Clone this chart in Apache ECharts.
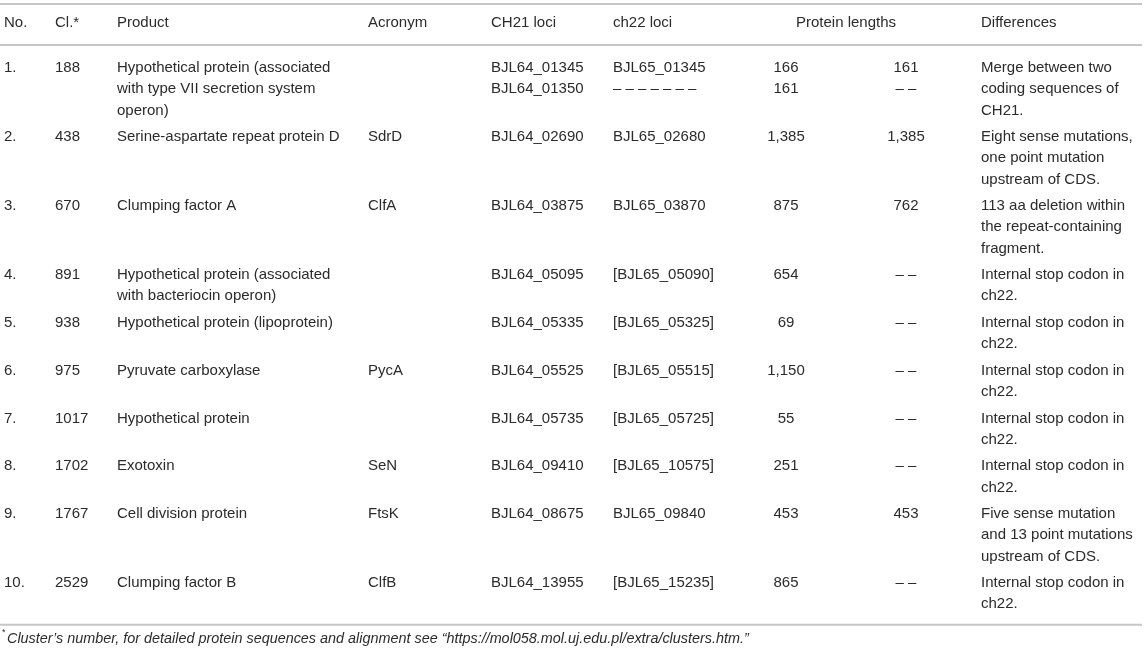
<!DOCTYPE html>
<html>
<head>
<meta charset="utf-8">
<title>Table</title>
<script src="https://cdn.jsdelivr.net/npm/echarts@6/dist/echarts.min.js"></script>
<style>
    html, body { margin: 0; padding: 0; background: #fff; }
    #container { width: 1145px; height: 656px; }
</style>
</head>
<body>
<div id="container"></div>
<script type="text/javascript">
    // table content
    var headers = ['No.', 'Cl.*', 'Product', 'Acronym', 'CH21 loci', 'ch22 loci', 'Protein lengths', 'Differences'];
    var rowNos = ['1.', '2.', '3.', '4.', '5.', '6.', '7.', '8.', '9.', '10.'];
    var clusters = ['188', '438', '670', '891', '938', '975', '1017', '1702', '1767', '2529'];
    var products = [
        'Hypothetical protein (associated\nwith type VII secretion system\noperon)',
        'Serine-aspartate repeat protein D',
        'Clumping factor A',
        'Hypothetical protein (associated\nwith bacteriocin operon)',
        'Hypothetical protein (lipoprotein)',
        'Pyruvate carboxylase',
        'Hypothetical protein',
        'Exotoxin',
        'Cell division protein',
        'Clumping factor B'
    ];
    var acronyms = ['', 'SdrD', 'ClfA', '', '', 'PycA', '', 'SeN', 'FtsK', 'ClfB'];
    var ch21Loci = ['BJL64_01345\nBJL64_01350', 'BJL64_02690', 'BJL64_03875', 'BJL64_05095', 'BJL64_05335',
        'BJL64_05525', 'BJL64_05735', 'BJL64_09410', 'BJL64_08675', 'BJL64_13955'];
    var ch22Loci = ['BJL65_01345\n– – – – – – –', 'BJL65_02680', 'BJL65_03870', '[BJL65_05090]', '[BJL65_05325]',
        '[BJL65_05515]', '[BJL65_05725]', '[BJL65_10575]', 'BJL65_09840', '[BJL65_15235]'];
    var lengthsCh21 = ['166\n161', '1,385', '875', '654', '69', '1,150', '55', '251', '453', '865'];
    var lengthsCh22 = ['161\n– –', '1,385', '762', '– –', '– –', '– –', '– –', '– –', '453', '– –'];
    var differences = [
        'Merge between two\ncoding sequences of\nCH21.',
        'Eight sense mutations,\none point mutation\nupstream of CDS.',
        '113 aa deletion within\nthe repeat-containing\nfragment.',
        'Internal stop codon in\nch22.',
        'Internal stop codon in\nch22.',
        'Internal stop codon in\nch22.',
        'Internal stop codon in\nch22.',
        'Internal stop codon in\nch22.',
        'Five sense mutation\nand 13 point mutations\nupstream of CDS.',
        'Internal stop codon in\nch22.'
    ];
    var footnote = 'Cluster\u2019s number, for detailed protein sequences and alignment see \u201chttps://mol058.mol.uj.edu.pl/extra/clusters.htm.\u201d';

    // layout
    var FONT = '15px "Liberation Sans", Arial, sans-serif';
    var TEXT = '#2b2b2b';
    var RULE = '#c6c6c6';
    var LH = 21.2, PAD = 5.4, FIRST_ROW = 57.4;
    var columns = [
        { data: rowNos, x: 4, align: 'left' },
        { data: clusters, x: 55, align: 'left' },
        { data: products, x: 117, align: 'left' },
        { data: acronyms, x: 368, align: 'left' },
        { data: ch21Loci, x: 491, align: 'left' },
        { data: ch22Loci, x: 613, align: 'left' },
        { data: lengthsCh21, x: 786, align: 'center' },
        { data: lengthsCh22, x: 906, align: 'center' },
        { data: differences, x: 981, align: 'left' }
    ];
    var headerPos = [[4, 'left'], [55, 'left'], [117, 'left'], [368, 'left'], [491, 'left'], [613, 'left'], [846, 'center'], [981, 'left']];

    function txt(s, x, y, align, va, font) {
        return {
            type: 'text', silent: true,
            style: {
                text: s, x: x, y: y, font: font || FONT, fill: TEXT,
                align: align, textAlign: align, verticalAlign: va, textVerticalAlign: va, lineHeight: LH
            }
        };
    }
    function rule(y) {
        return { type: 'line', silent: true, shape: { x1: 0, y1: y, x2: 1142, y2: y }, style: { stroke: RULE, lineWidth: 2 } };
    }

    function buildTable() {
        var els = [rule(4), rule(45)];
        headers.forEach(function (h, i) {
            els.push(txt(h, headerPos[i][0], 23, headerPos[i][1], 'middle'));
        });

        var rowTop = FIRST_ROW;
        for (var r = 0; r < rowNos.length; r++) {
            var lines = 1;
            columns.forEach(function (c) {
                var n = c.data[r].split('\n').length;
                if (n > lines) lines = n;
                if (c.data[r] !== '') els.push(txt(c.data[r], c.x, rowTop, c.align, 'top'));
            });
            rowTop += lines * LH + PAD;
        }
        var bottom = rowTop - PAD + 10;
        els.push(rule(bottom));
        els.push(txt('*', 2, bottom + 8, 'left', 'middle', '9px "Liberation Sans", Arial, sans-serif'));
        els.push(txt(footnote, 7, bottom + 14, 'left', 'middle', 'italic 14.4px "Liberation Sans", Arial, sans-serif'));
        return els;
    }

    var myChart = echarts.init(document.getElementById('container'), null, { renderer: 'canvas' });
    myChart.setOption({
        backgroundColor: '#ffffff',
        animation: false,
        graphic: { elements: buildTable() }
    });
</script>
</body>
</html>
